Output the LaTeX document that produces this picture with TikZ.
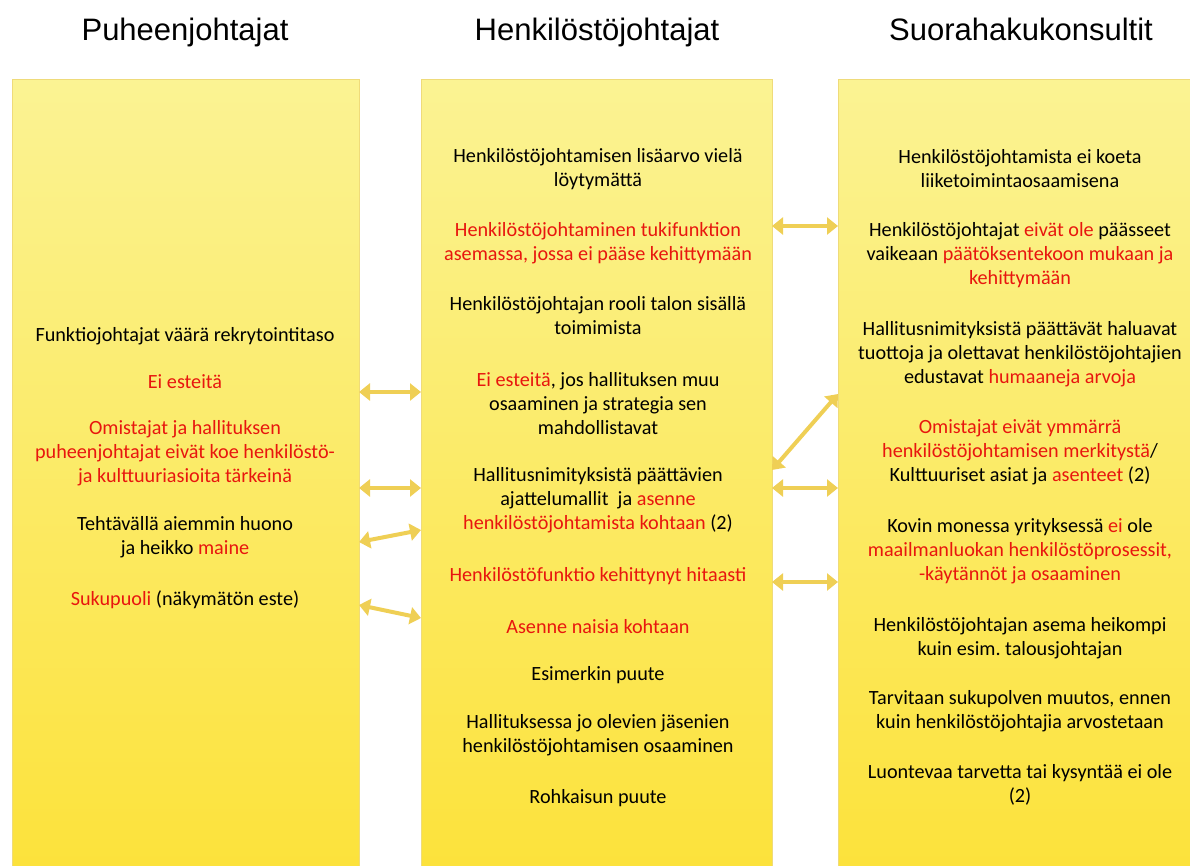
\documentclass[tikz,border=0pt]{standalone}
\usepackage{fontspec}
\setmainfont{Carlito}
\newfontfamily\headfont{Liberation Sans}
\usepackage{xcolor}
\definecolor{alert}{HTML}{E8160E}
\definecolor{paletop}{HTML}{FBF393}
\definecolor{palebot}{HTML}{FCE23A}
\definecolor{rim}{HTML}{EFDB7A}
\definecolor{gold}{HTML}{EFCF55}
\usetikzlibrary{arrows.meta}
\tikzset{
  every node/.append style={inner sep=0pt, outer sep=0pt},
  col/.style={draw=rim, line width=0.8pt, shading=axis, top color=paletop, bottom color=palebot,
    minimum width=#1, minimum height=800pt, anchor=north west},
  col/.default=347pt,
  head/.style={font=\headfont\fontsize{31}{36}\selectfont, anchor=base},
  item/.style={align=center, font=\fontsize{20.2}{24}\selectfont},
  link/.style={draw=gold, line width=4pt, {Triangle[length=11pt,width=17pt]}-{Triangle[length=11pt,width=17pt]}},
}
\newcommand{\hl}[1]{\textcolor{alert}{#1}}

\begin{document}
\begin{tikzpicture}[x=1pt, y=-1pt]
  \useasboundingbox (0,0) rectangle (1190,865);
  % columns and their titles
  \foreach \name/\x/\w/\cx/\label in {pj/12/347pt/185/Puheenjohtajat, hj/421/351pt/597/Henkilöstöjohtajat, sk/838/364pt/1021/Suorahakukonsultit} {
    \node[col=\w] (\name) at (\x,79) {};
    \node[head] (\name-title) at (\cx,40) {\label};
  }
  % Puheenjohtajat
  \node[item] (p1) at (185,336) {Funktiojohtajat väärä rekrytointitaso};
  \node[item] (p2) at (185,382) {\hl{Ei esteitä}};
  \node[item] (p3) at (185,453) {\hl{Omistajat ja hallituksen}\\\hl{puheenjohtajat eivät koe henkilöstö-}\\\hl{ja kulttuuriasioita tärkeinä}};
  \node[item] (p4) at (185,537) {Tehtävällä aiemmin huono\\ja heikko \hl{maine}};
  \node[item] (p5) at (185,600) {\hl{Sukupuoli} (näkymätön este)};
  % Henkilöstöjohtajat
  \node[item] (h1) at (598,169) {Henkilöstöjohtamisen lisäarvo vielä\\löytymättä};
  \node[item] (h2) at (598,243) {\hl{Henkilöstöjohtaminen tukifunktion}\\\hl{asemassa, jossa ei pääse kehittymään}};
  \node[item] (h3) at (598,316) {Henkilöstöjohtajan rooli talon sisällä\\toimimista};
  \node[item] (h4) at (598,404) {\hl{Ei esteitä}, jos hallituksen muu\\osaaminen ja strategia sen\\mahdollistavat};
  \node[item] (h5) at (598,500) {Hallitusnimityksistä päättävien\\ajattelumallit\ \ ja \hl{asenne}\\\hl{henkilöstöjohtamista kohtaan} (2)};
  \node[item] (h6) at (598,576) {\hl{Henkilöstöfunktio kehittynyt hitaasti}};
  \node[item] (h7) at (598,627) {\hl{Asenne naisia kohtaan}};
  \node[item] (h8) at (598,675) {Esimerkin puute};
  \node[item] (h9) at (598,735) {Hallituksessa jo olevien jäsenien\\henkilöstöjohtamisen osaaminen};
  \node[item] (h10) at (598,798) {Rohkaisun puute};
  % Suorahakukonsultit
  \node[item] (s1) at (1020,169) {Henkilöstöjohtamista ei koeta\\liiketoimintaosaamisena};
  \node[item] (s2) at (1020,255) {Henkilöstöjohtajat \hl{eivät ole} päässeet\\vaikeaan \hl{päätöksentekoon mukaan ja}\\\hl{kehittymään}};
  \node[item] (s3) at (1020,354) {Hallitusnimityksistä päättävät haluavat\\tuottoja ja olettavat henkilöstöjohtajien\\edustavat \hl{humaaneja arvoja}};
  \node[item] (s4) at (1020,452) {\hl{Omistajat eivät ymmärrä}\\\hl{henkilöstöjohtamisen merkitystä}/\\Kulttuuriset asiat ja \hl{asenteet} (2)};
  \node[item] (s5) at (1020,551) {Kovin monessa yrityksessä \hl{ei} ole\\\hl{maailmanluokan henkilöstöprosessit,}\\\hl{-käytännöt ja osaaminen}};
  \node[item] (s6) at (1020,638) {Henkilöstöjohtajan asema heikompi\\kuin esim.\ talousjohtajan};
  \node[item] (s7) at (1020,711) {Tarvitaan sukupolven muutos, ennen\\kuin henkilöstöjohtajia arvostetaan};
  \node[item] (s8) at (1020,785) {Luontevaa tarvetta tai kysyntää ei ole\\(2)};
  % links between columns
  \draw[link] (pj.east |- 0,392) -- (hj.west |- 0,392);
  \draw[link] (pj.east |- 0,488) -- (hj.west |- 0,488);
  \draw[link] (pj.east |- 0,542) -- (hj.west |- 0,530);
  \draw[link] (pj.east |- 0,605) -- (hj.west |- 0,618);
  \draw[link] (hj.east |- 0,226) -- (sk.west |- 0,226);
  \draw[link] (hj.east |- 0,470) -- (sk.west |- 0,394);
  \draw[link] (hj.east |- 0,488) -- (sk.west |- 0,488);
  \draw[link] (hj.east |- 0,582) -- (sk.west |- 0,582);
\end{tikzpicture}
\end{document}
